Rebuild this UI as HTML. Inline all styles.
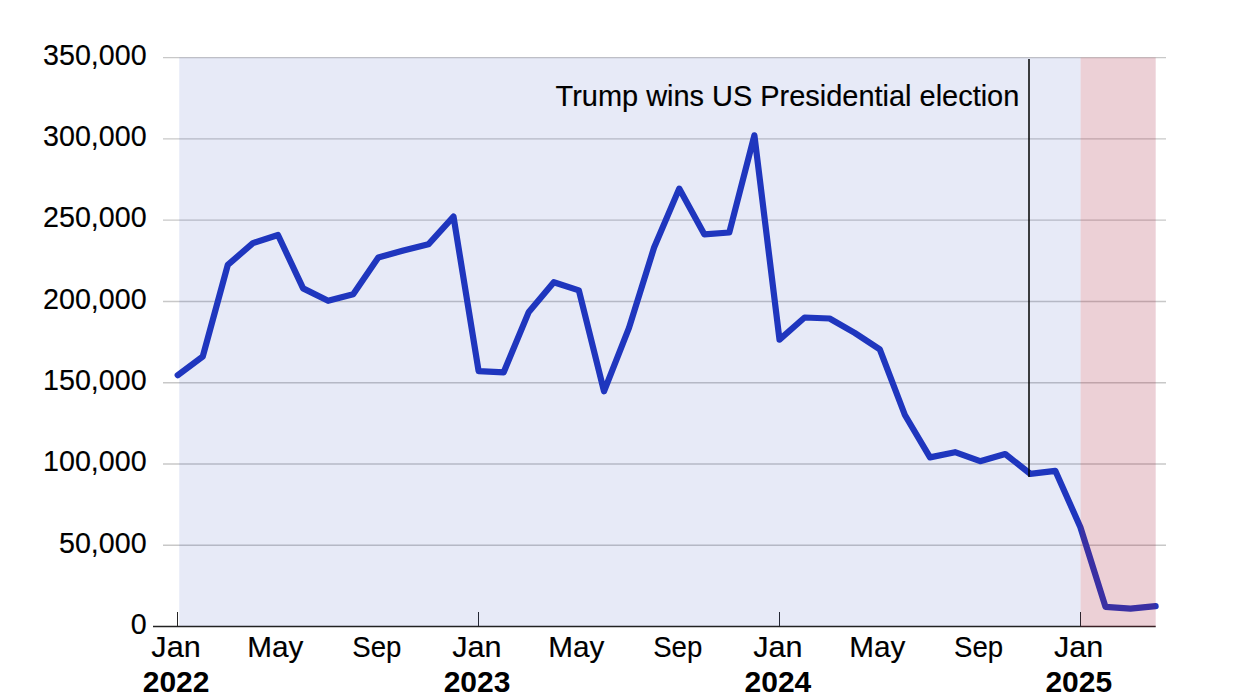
<!DOCTYPE html>
<html><head><meta charset="utf-8"><style>
html,body{margin:0;padding:0;background:#fff;width:1245px;height:700px;overflow:hidden}
svg{display:block}
text{font-family:"Liberation Sans",sans-serif;fill:#000;stroke:#000;stroke-width:0.15px}
.yl{font-size:30.0px;text-anchor:end}
.xl{font-size:30px;text-anchor:middle}
.yr{font-size:30px;font-weight:bold;text-anchor:middle;stroke-width:0}
.an{font-size:30px;text-anchor:end}
</style></head><body>
<svg width="1245" height="700" viewBox="0 0 1245 700">
<rect x="0" y="0" width="1245" height="700" fill="#ffffff"/>
<line x1="163" y1="545.31" x2="1166" y2="545.31" stroke="#c8c8c8" stroke-width="1.4"/>
<line x1="163" y1="464.03" x2="1166" y2="464.03" stroke="#c8c8c8" stroke-width="1.4"/>
<line x1="163" y1="382.74" x2="1166" y2="382.74" stroke="#c8c8c8" stroke-width="1.4"/>
<line x1="163" y1="301.46" x2="1166" y2="301.46" stroke="#c8c8c8" stroke-width="1.4"/>
<line x1="163" y1="220.17" x2="1166" y2="220.17" stroke="#c8c8c8" stroke-width="1.4"/>
<line x1="163" y1="138.89" x2="1166" y2="138.89" stroke="#c8c8c8" stroke-width="1.4"/>
<line x1="163" y1="57.60" x2="1166" y2="57.60" stroke="#c8c8c8" stroke-width="1.4"/>
<text transform="translate(146.6,633.8) scale(0.955,1)" class="yl">0</text>
<text transform="translate(146.6,552.5) scale(0.955,1)" class="yl">50,000</text>
<text transform="translate(146.6,471.2) scale(0.955,1)" class="yl">100,000</text>
<text transform="translate(146.6,389.9) scale(0.955,1)" class="yl">150,000</text>
<text transform="translate(146.6,308.7) scale(0.955,1)" class="yl">200,000</text>
<text transform="translate(146.6,227.4) scale(0.955,1)" class="yl">250,000</text>
<text transform="translate(146.6,146.1) scale(0.955,1)" class="yl">300,000</text>
<text transform="translate(146.6,64.8) scale(0.955,1)" class="yl">350,000</text>
<line x1="153" y1="626.5" x2="1155.7" y2="626.5" stroke="#222222" stroke-width="1.3"/>
<line x1="177.5" y1="612" x2="177.5" y2="626" stroke="#262626" stroke-width="1"/>
<line x1="478.5" y1="612" x2="478.5" y2="626" stroke="#262626" stroke-width="1"/>
<line x1="779.5" y1="612" x2="779.5" y2="626" stroke="#262626" stroke-width="1"/>
<line x1="1080.5" y1="612" x2="1080.5" y2="626" stroke="#262626" stroke-width="1"/>
<polyline points="177.7,375.2 202.8,356.4 227.8,264.9 252.9,243.1 278.0,235.0 303.1,288.4 328.1,300.8 353.2,294.2 378.3,257.4 403.4,250.5 428.4,244.3 453.5,216.6 478.6,371.1 503.7,372.3 528.8,311.9 553.8,282.2 578.9,290.4 604.0,391.3 629.0,327.9 654.1,247.5 679.2,188.6 704.3,234.3 729.3,232.5 754.4,135.3 779.5,339.6 804.6,317.5 829.6,318.5 854.7,332.9 879.8,349.3 904.9,415.0 930.0,457.4 955.0,452.2 980.1,461.2 1005.2,454.0 1030.2,473.8 1055.3,470.8 1080.4,527.2 1105.5,606.9 1130.5,608.7 1155.6,606.2" fill="none" stroke="rgb(33,55,192)" stroke-width="6.2" stroke-linejoin="round" stroke-linecap="round"/>
<rect x="179.2" y="57.5" width="901.4" height="568.5" fill="rgb(15,45,175)" fill-opacity="0.1"/>
<rect x="1080.6" y="57.5" width="75.1" height="569.5" fill="rgb(160,20,50)" fill-opacity="0.2"/>
<line x1="1029" y1="59" x2="1029" y2="477" stroke="#000000" stroke-width="1.5"/>
<text transform="translate(1019.3,105.5) scale(0.965,1)" class="an">Trump wins US Presidential election</text>
<text transform="translate(176.0,657.2) scale(1.02,1)" class="xl">Jan</text>
<text transform="translate(275.4,657.2) scale(0.99,1)" class="xl">May</text>
<text transform="translate(376.8,657.2) scale(0.92,1)" class="xl">Sep</text>
<text transform="translate(176.1,692.2) scale(1.0,1)" class="yr">2022</text>
<text transform="translate(476.9,657.2) scale(1.02,1)" class="xl">Jan</text>
<text transform="translate(576.3,657.2) scale(0.99,1)" class="xl">May</text>
<text transform="translate(677.7,657.2) scale(0.92,1)" class="xl">Sep</text>
<text transform="translate(477.0,692.2) scale(1.0,1)" class="yr">2023</text>
<text transform="translate(777.8,657.2) scale(1.02,1)" class="xl">Jan</text>
<text transform="translate(877.2,657.2) scale(0.99,1)" class="xl">May</text>
<text transform="translate(978.6,657.2) scale(0.92,1)" class="xl">Sep</text>
<text transform="translate(777.9,692.2) scale(1.0,1)" class="yr">2024</text>
<text transform="translate(1078.7,657.2) scale(1.02,1)" class="xl">Jan</text>
<text transform="translate(1078.8,692.2) scale(1.0,1)" class="yr">2025</text>
</svg>
</body></html>
